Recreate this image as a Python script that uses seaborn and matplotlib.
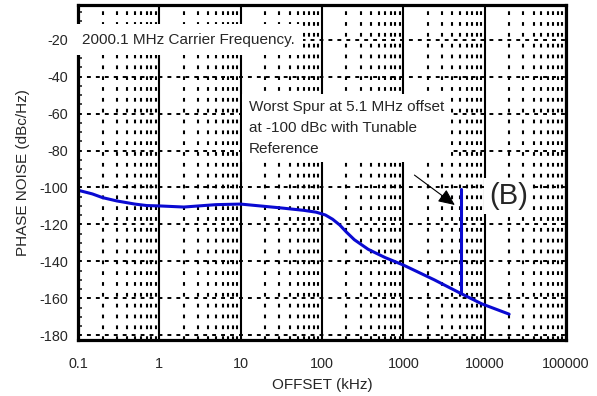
import numpy as np
import pandas as pd
import matplotlib
matplotlib.use("Agg")
import matplotlib.pyplot as plt
from matplotlib.ticker import LogLocator, MultipleLocator, FuncFormatter
import seaborn as sns

# Phase noise curve (offset in kHz, dBc/Hz)
offset_khz = [0.1, 0.15, 0.2, 0.3, 0.5, 0.7, 1, 2, 5, 10, 30, 60, 85, 110, 135, 165,
              200, 250, 370, 600, 1000, 2400, 5100, 9200, 20000]
noise_dbc = [-101.5, -103.5, -105.5, -107.3, -109.0, -109.8, -110.0, -110.6, -109.3,
             -109.0, -111.0, -112.4, -113.4, -114.9, -117.2, -120.3, -124.2, -128.3,
             -133.5, -138.0, -142.0, -150.0, -157.4, -163.0, -168.6]

# Spur at 5.1 MHz
spur_khz = [5100, 5100]
spur_dbc = [-157.4, -101.0]

x_ticks = [0.1, 1, 10, 100, 1000, 10000, 100000]
y_ticks = [-180, -160, -140, -120, -100, -80, -60, -40, -20]

curve = pd.DataFrame({"offset": offset_khz, "noise": noise_dbc})
spur = pd.DataFrame({"offset": spur_khz, "noise": spur_dbc})

sns.set_style("white")
plt.rcParams["font.family"] = ["Liberation Sans", "DejaVu Sans"]
plt.rcParams["axes.unicode_minus"] = False

fig = plt.figure(figsize=(5.97, 3.96), dpi=100)
ax = fig.add_axes([0.1307, 0.1414, 0.8173, 0.846])

blue = "#0a0ad2"
sns.lineplot(data=curve, x="offset", y="noise", ax=ax, color=blue, lw=2.2,
             estimator=None, sort=False)
sns.lineplot(data=spur, x="offset", y="noise", ax=ax, color=blue, lw=2.2,
             estimator=None, sort=False)

ax.set_xscale("log")
ax.set_xlim(0.1, 100000)
ax.set_ylim(-182.6, -1.2)

ax.set_xticks(x_ticks)
ax.xaxis.set_major_formatter(FuncFormatter(lambda v, p: f"{v:g}"))
ax.xaxis.set_minor_locator(LogLocator(base=10, subs=np.arange(2, 10)))
ax.set_yticks(y_ticks)
ax.yaxis.set_minor_locator(MultipleLocator(5))

# grid: solid decades, dotted minors, dashed every 20 dB
ax.set_axisbelow(True)
ax.xaxis.grid(True, which="major", color="black", lw=1.5, ls="-")
ax.xaxis.grid(True, which="minor", color="black", lw=1.5, ls=(0, (1.8, 3.4)))
ax.yaxis.grid(True, which="major", color="black", lw=1.4, ls=(0, (2.0, 2.6)))
ax.yaxis.grid(False, which="minor")

ax.tick_params(axis="x", which="both", length=0, pad=12, labelsize=10.4)
ax.tick_params(axis="y", which="major", length=0, pad=7, labelsize=10.4)
ax.tick_params(axis="y", which="minor", direction="in", length=3, width=1.2, left=True)

for s in ax.spines.values():
    s.set_color("black")
    s.set_linewidth(2.3)

ax.set_xlabel("OFFSET (kHz)", fontsize=11, labelpad=5)
ax.set_ylabel("PHASE NOISE (dBc/Hz)", fontsize=11, labelpad=7)

box = dict(facecolor="white", edgecolor="none", boxstyle="square,pad=0.55")
ax.text(0.112, -20, "2000.1 MHz Carrier Frequency.", fontsize=11,
        ha="left", va="center", bbox=box, zorder=4)
ax.text(12.6, -67.8, "Worst Spur at 5.1 MHz offset\nat -100 dBc with Tunable\nReference",
        fontsize=11, ha="left", va="center", linespacing=1.6,
        bbox=dict(facecolor="white", edgecolor="none", boxstyle="square,pad=0.45"),
        zorder=4)
ax.text(19500, -104.6, "(B)", fontsize=21, ha="center", va="center",
        bbox=dict(facecolor="white", edgecolor="none", boxstyle="square,pad=0.15"),
        zorder=4)
ax.annotate("", xy=(4300, -109.5), xytext=(1370, -93.3),
            arrowprops=dict(arrowstyle="-|>,head_length=1.0,head_width=0.45",
                            color="black", lw=0.8, shrinkA=0, shrinkB=0),
            zorder=5)

fig.savefig("out.png", dpi=100)
